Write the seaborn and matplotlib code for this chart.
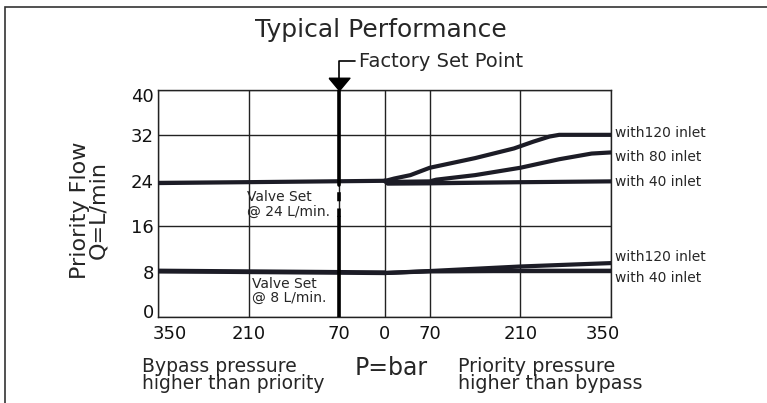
import matplotlib
matplotlib.use("Agg")
import matplotlib.pyplot as plt
import matplotlib.transforms as mtransforms
import seaborn as sns
from matplotlib.patches import Rectangle

sns.set_theme(style="white")
plt.rcParams['font.family'] = ['DejaVu Sans']

# ---- data (x: negative = bypass pressure side, positive = priority pressure side, bar) ----
x_ticks = [-350, -210, -70, 0, 70, 210, 350]
x_ticklabels = ["350", "210", "70", "0", "70", "210", "350"]
y_ticks = [0, 8, 16, 24, 32, 40]

set24_left_x = [-350, 0]
set24_left_y = [23.6, 24.0]
set24_120_x = [0, 5, 15, 40, 70, 140, 200, 230, 255, 270, 350]
set24_120_y = [24.0, 24.1, 24.4, 25.0, 26.3, 28.0, 29.7, 30.9, 31.8, 32.1, 32.1]
set24_80_x = [5, 70, 80, 140, 210, 270, 320, 350]
set24_80_y = [23.8, 23.9, 24.2, 25.0, 26.3, 27.8, 28.8, 29.0]
set24_40_x = [0, 5, 70, 210, 350]
set24_40_y = [24.0, 23.5, 23.55, 23.75, 23.9]

set8_left_x = [-350, 0]
set8_left_y = [8.1, 7.8]
set8_120_x = [0, 70, 210, 350]
set8_120_y = [7.75, 8.1, 8.9, 9.5]
set8_40_x = [0, 70, 210, 350]
set8_40_y = [7.75, 8.05, 8.15, 8.15]

factory_x = -70

curve_labels = ["with120 inlet", "with 80 inlet", "with 40 inlet", "with120 inlet", "with 40 inlet"]
curve_label_y = [32.4, 28.2, 23.8, 10.6, 6.9]

W, H = 767, 403
fig = plt.figure(figsize=(W / 100, H / 100), dpi=100)
ax = fig.add_axes([158 / W, 1 - 317 / H, (611 - 158) / W, (317 - 90) / H])

# frame around the whole drawing
fig.patches.append(Rectangle((5 / W, -0.1), 1.2, 1 - 7 / H + 0.1, transform=fig.transFigure,
                             fill=False, edgecolor="#333333", linewidth=1.2))

ax.set_xlim(-350, 350)
ax.set_ylim(0, 40)
ax.set_xticks(x_ticks)
ax.set_xticklabels(x_ticklabels)
ax.set_yticks(y_ticks)
ax.tick_params(axis="both", length=0, labelsize=13, colors="#111111")
ax.tick_params(axis="x", pad=6)
ax.tick_params(axis="y", pad=3)
ax.grid(True, color="#222222", linewidth=1.0)
for s in ax.spines.values():
    s.set_color("#222222")
    s.set_linewidth(1.0)

# nudge end tick labels inward like the reference
def shift(lbl, dx, dy):
    lbl.set_transform(lbl.get_transform() +
                      mtransforms.ScaledTranslation(dx / 100, dy / 100, fig.dpi_scale_trans))

xl = ax.get_xticklabels()
shift(xl[0], 12, 0)
shift(xl[-1], -8, 0)
yl = ax.get_yticklabels()
shift(yl[0], 0, 6)
shift(yl[-1], 0, -5)

lc = "#1c1c26"
curves = [
    (set24_left_x, set24_left_y, 3.0),
    (set24_120_x, set24_120_y, 3.0),
    (set24_80_x, set24_80_y, 3.0),
    (set24_40_x, set24_40_y, 3.0),
    (set8_left_x, set8_left_y, 3.5),
    (set8_120_x, set8_120_y, 3.0),
    (set8_40_x, set8_40_y, 3.0),
]
for xs, ys, lw in curves:
    sns.lineplot(x=xs, y=ys, ax=ax, color=lc, linewidth=lw, sort=False,
                 solid_capstyle="round", legend=False, zorder=4)

# factory set point line
ax.plot([factory_x, factory_x], [40, 23.2], color="#000000", linewidth=2.6, zorder=5)
ax.plot([factory_x, factory_x], [23.2, 17.6], color="#000000", linewidth=2.6, zorder=5,
        linestyle=(2.5, (2.5, 2.0)), solid_capstyle="butt", dash_capstyle="butt")
ax.plot([factory_x, factory_x], [17.6, 0], color="#000000", linewidth=2.6, zorder=5)
tri = [(-1.0, 0.6), (1.0, 0.6), (0.0, -0.6), (-1.0, 0.6)]
ax.plot([factory_x], [41.06], marker=tri, markersize=15, color="#000000",
        linestyle="none", clip_on=False, zorder=6)
ax.plot([factory_x, factory_x, factory_x + 25], [42.2, 45.1, 45.1], color="#000000",
        linewidth=1.2, clip_on=False)
ax.text(factory_x + 30, 45.1, "Factory Set Point", fontsize=14, va="center", ha="left")

ax.text(-5, 50.5, "Typical Performance", fontsize=18, ha="center", va="center")

ax.text(-212, 22.3, "Valve Set\n@ 24 L/min.", fontsize=10, ha="left", va="top", linespacing=1.0)
ax.text(-205, 7.0, "Valve Set\n@ 8 L/min.", fontsize=10, ha="left", va="top", linespacing=1.0)

for lab, yy in zip(curve_labels, curve_label_y):
    ax.text(356, yy, lab, fontsize=10, ha="left", va="center", clip_on=False)

ax.set_ylabel("")
ax.set_xlabel("")
fig.text(89 / W, 1 - 210 / H, "Priority Flow\nQ=L/min", fontsize=16, rotation=90,
         ha="center", va="center", linespacing=0.9)

fig.text(142 / W, 1 - 375 / H, "Bypass pressure\nhigher than priority", fontsize=13.5,
         ha="left", va="center", linespacing=0.9)
fig.text(391 / W, 1 - 368 / H, "P=bar", fontsize=17, ha="center", va="center")
fig.text(458 / W, 1 - 375 / H, "Priority pressure\nhigher than bypass", fontsize=13.8,
         ha="left", va="center", linespacing=0.9)

fig.savefig("out.png", dpi=100)
